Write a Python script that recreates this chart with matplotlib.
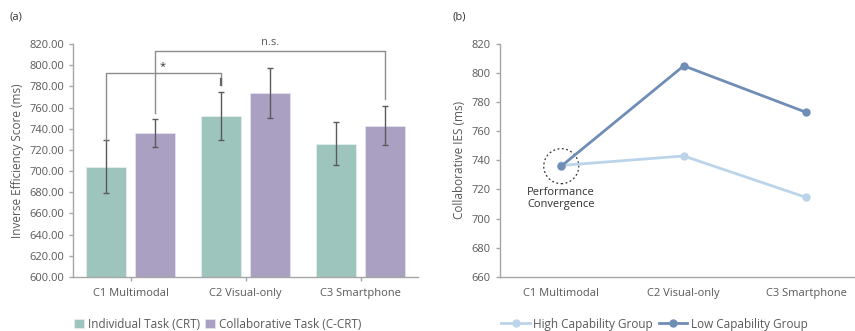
import matplotlib
matplotlib.use("Agg")
import matplotlib.pyplot as plt
from matplotlib.patches import Ellipse
import numpy as np

plt.rcParams['font.family'] = ['Open Sans', 'DejaVu Sans']

# data
conditions = ['C1 Multimodal', 'C2 Visual-only', 'C3 Smartphone']
individual = [704, 752, 726]
individual_err = [25, 23, 20]
collaborative = [736, 774, 743]
collaborative_err = [13, 23.5, 18]
high_group = [736.5, 743, 714.5]
low_group = [736, 805, 773]

teal = '#9dc4bd'
purple = '#aaa0c2'
light_blue = '#bcd4ea'
steel_blue = '#6f8db5'
text_gray = '#595959'
axis_gray = '#a6a6a6'

fig = plt.figure(figsize=(8.55, 3.31), dpi=100)

# ---- panel (a): bar chart with error bars
ax1 = fig.add_axes([73 / 855, 54 / 331, 345 / 855, 233 / 331])
x = np.arange(len(conditions))
err_style = dict(ecolor='#5a5a5a', elinewidth=1, capsize=2, capthick=1)
ax1.bar(x - 0.21, individual, width=0.35, color=teal, edgecolor='#e4efed', linewidth=0.6,
        yerr=individual_err, error_kw=err_style, label='Individual Task (CRT)')
ax1.bar(x + 0.21, collaborative, width=0.35, color=purple, edgecolor='#e6e2ee', linewidth=0.6,
        yerr=collaborative_err, error_kw=err_style, label='Collaborative Task (C-CRT)')
ax1.set_xlim(-0.5, 2.5)
ax1.set_ylim(600, 820)
ax1.set_yticks(np.arange(600, 821, 20))
ax1.set_yticklabels([f'{v:.2f}' for v in np.arange(600, 821, 20)])
ax1.set_xticks(x)
ax1.set_xticklabels(conditions)
ax1.set_ylabel('Inverse Efficiency Score (ms)', fontsize=8.5, color=text_gray, labelpad=4)

# significance brackets
br = '#8c8c8c'
ax1.plot([-0.21, -0.21, 0.79, 0.79], [729.5, 792.5, 792.5, 781], color=br, lw=1, clip_on=False)
ax1.plot([0.79, 0.79], [781, 786.5], color='#666666', lw=1.6, clip_on=False)
ax1.text(0.28, 799, '*', ha='center', va='center', fontsize=8, color='#333333')
ax1.plot([0.21, 0.21, 2.21, 2.21], [755, 813.5, 813.5, 768], color=br, lw=1, clip_on=False)
ax1.text(1.21, 816, 'n.s.', ha='center', va='bottom', fontsize=8, color=text_gray)

ax1.legend(loc='upper center', bbox_to_anchor=(0.42, -0.13), ncol=2, frameon=False,
           fontsize=8.5, handlelength=0.8, handleheight=0.8, handletextpad=0.4,
           columnspacing=0.4, labelcolor=text_gray)

# ---- panel (b): line chart
ax2 = fig.add_axes([500 / 855, 54.3 / 331, 355 / 855, 232.7 / 331])
ax2.plot(x, high_group, color=light_blue, lw=2, marker='o', ms=5, label='High Capability Group')
ax2.plot(x, low_group, color=steel_blue, lw=2, marker='o', ms=5, label='Low Capability Group')
ax2.set_xlim(-0.5, 2.398)
ax2.set_ylim(660, 820)
ax2.set_yticks(np.arange(660, 821, 20))
ax2.set_xticks(x)
ax2.set_xticklabels(conditions)
ax2.set_ylabel('Collaborative IES (ms)', fontsize=8.5, color=text_gray, labelpad=4)

# dotted circle around convergence point
px, py = ax2.transData.transform((0, low_group[0]))
ax2.add_patch(Ellipse((px, py), 35, 35, transform=None, fill=False,
                      edgecolor='#333333', lw=0.9, linestyle=(0, (1.5, 2))))
ax2.text(-0.28, 721.5, 'Performance\nConvergence', ha='left', va='top', fontsize=8,
         color='#333333', linespacing=1.15)

ax2.legend(loc='upper center', bbox_to_anchor=(0.435, -0.13), ncol=2, frameon=False,
           fontsize=8.5, handlelength=2.4, handletextpad=0.3, columnspacing=0.5,
           labelcolor=text_gray)

for ax in (ax1, ax2):
    for s in ('top', 'right'):
        ax.spines[s].set_visible(False)
    for s in ('left', 'bottom'):
        ax.spines[s].set_color(axis_gray)
        ax.spines[s].set_linewidth(1)
    ax.tick_params(axis='both', colors=axis_gray, labelcolor=text_gray, labelsize=8,
                   length=3, width=1)
    ax.tick_params(axis='x', length=0, pad=8)

ax1.tick_params(axis='x', length=3, pad=5)

fig.text(10 / 855, 1 - 17 / 331, '(a)', fontsize=8, color='#333333', va='center')
fig.text(452 / 855, 1 - 17 / 331, '(b)', fontsize=8, color='#333333', va='center')

fig.savefig('out.png', dpi=100)
